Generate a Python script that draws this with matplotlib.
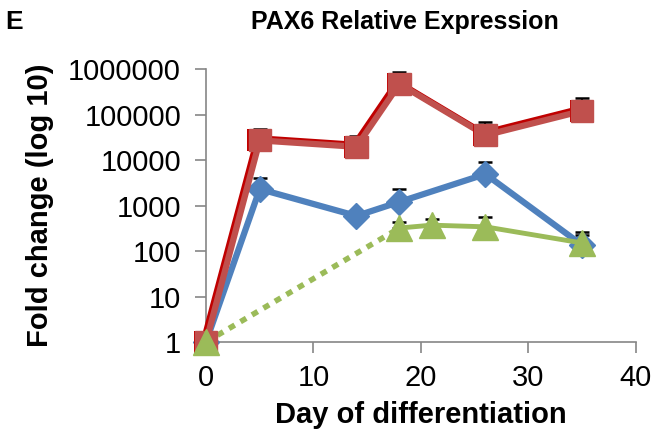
import matplotlib.pyplot as plt
import matplotlib.patheffects as pe
import numpy as np

plt.rcParams['font.family'] = ['Liberation Sans', 'DejaVu Sans']

days = [0, 5, 14, 18, 26, 35]
red_vals = [1, 27000, 19500, 470000, 35000, 120000]
red_upper = [1, 48000, 34000, 860000, 69000, 230000]

blue_vals = [1, 2300, 590, 1200, 4900, 135]
blue_upper = [1, 4000, 590, 2300, 9100, 260]

green_days = [0, 18, 21, 26, 35]
green_vals = [1, 320, 370, 340, 150]
green_upper = [1, 440, 500, 560, 225]

yticks = [1, 10, 100, 1000, 10000, 100000, 1000000]
ytick_labels = ['1', '10', '100', '1000', '10000', '100000', '1000000']

RED = '#C0504D'
DARK_RED = '#C00000'
BLUE = '#4F81BD'
GREEN = '#9BBB59'
GRAY = '#868686'


def upper_err(vals, upper):
    vals = np.array(vals, dtype=float)
    return [np.zeros_like(vals), np.array(upper, dtype=float) - vals]


fig = plt.figure(figsize=(6.7, 4.36), dpi=100)
ax = fig.add_axes([0.3075, 0.2156, 0.6415, 0.6261])

# error bars (upper only)
for x, v, u in [(days, blue_vals, blue_upper), (days, red_vals, red_upper),
                (green_days, green_vals, green_upper)]:
    ax.errorbar(x, v, yerr=upper_err(v, u), fmt='none', ecolor='black',
                elinewidth=1.5, capsize=5, capthick=1.8, zorder=2)

ax.plot(days, blue_vals, color=BLUE, lw=4.5, marker='D', ms=13,
        clip_on=False, zorder=3)

# green: dotted from day 0 to first measured, solid after
ax.plot(green_days[:2], green_vals[:2], color=GREEN, lw=4, ls=(0, (1.2, 1.2)),
        zorder=3, clip_on=False)
ax.plot(green_days[1:], green_vals[1:], color=GREEN, lw=3.5, marker='^', ms=19,
        zorder=5, clip_on=False)

# red line with a darker offset edge, markers drawn separately
ax.plot(days, red_vals, color=RED, lw=4.5, zorder=4, clip_on=False,
        path_effects=[pe.SimpleLineShadow(offset=(-1.5, 1.5), shadow_color=DARK_RED, alpha=1),
                      pe.Normal()])
ax.plot(days, red_vals, color=RED, ls='none', marker='s', ms=16, mec=RED,
        zorder=4.5, clip_on=False,
        path_effects=[pe.SimplePatchShadow(offset=(-1, 0), shadow_rgbFace=DARK_RED, alpha=1),
                      pe.Normal()])
ax.plot([0], [1], color=GREEN, marker='^', ms=19, ls='none', zorder=6, clip_on=False)

ax.set_yscale('log')
ax.set_ylim(1, 1000000)
ax.set_xlim(0, 40)
ax.set_yticks(yticks)
ax.set_yticklabels(ytick_labels)
ax.minorticks_off()
ax.set_xticks([0, 10, 20, 30, 40])

for s in ['top', 'right']:
    ax.spines[s].set_visible(False)
for s in ['left', 'bottom']:
    ax.spines[s].set_color(GRAY)
    ax.spines[s].set_linewidth(1.2)
ax.tick_params(axis='both', colors=GRAY, labelcolor='black', labelsize=21,
               length=8, width=1.2)
ax.tick_params(axis='y', pad=10)
ax.tick_params(axis='x', pad=8)

ax.set_xlabel('Day of differentiation', fontsize=21, fontweight='bold', labelpad=6)
ax.set_ylabel('Fold change (log 10)', fontsize=21, fontweight='bold', labelpad=10)
fig.text(0.605, 0.95, 'PAX6 Relative Expression', fontsize=18, fontweight='bold',
         ha='center', va='center')
fig.text(0.008, 0.95, 'E', fontsize=19, fontweight='bold', ha='left', va='center')

plt.savefig('out.png', dpi=100)
